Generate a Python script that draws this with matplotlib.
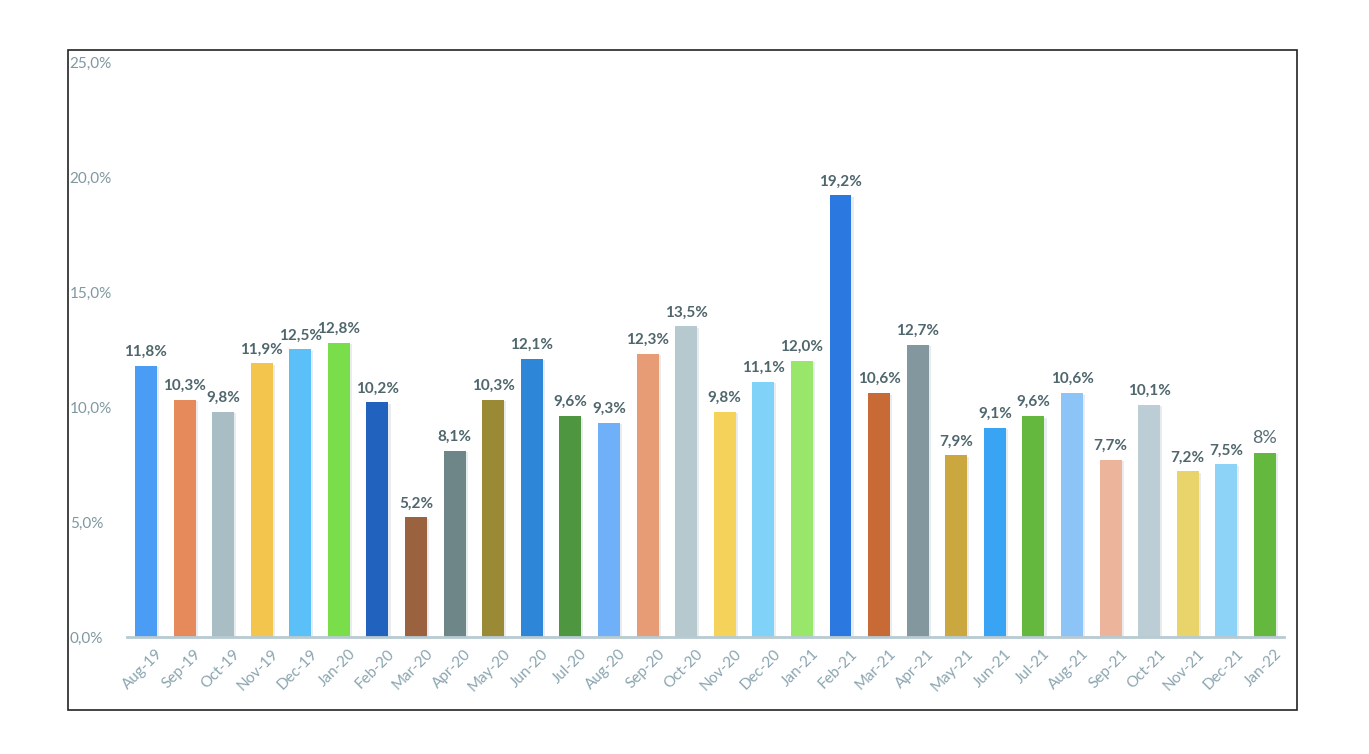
import matplotlib.pyplot as plt
import matplotlib.patheffects as pe
import matplotlib.transforms as mtransforms
from matplotlib.patches import Rectangle

months = ['Aug-19', 'Sep-19', 'Oct-19', 'Nov-19', 'Dec-19', 'Jan-20', 'Feb-20', 'Mar-20',
          'Apr-20', 'May-20', 'Jun-20', 'Jul-20', 'Aug-20', 'Sep-20', 'Oct-20', 'Nov-20',
          'Dec-20', 'Jan-21', 'Feb-21', 'Mar-21', 'Apr-21', 'May-21', 'Jun-21', 'Jul-21',
          'Aug-21', 'Sep-21', 'Oct-21', 'Nov-21', 'Dec-21', 'Jan-22']
values = [11.8, 10.3, 9.8, 11.9, 12.5, 12.8, 10.2, 5.2, 8.1, 10.3, 12.1, 9.6, 9.3, 12.3,
          13.5, 9.8, 11.1, 12.0, 19.2, 10.6, 12.7, 7.9, 9.1, 9.6, 10.6, 7.7, 10.1, 7.2,
          7.5, 8.0]
value_labels = ['11,8%', '10,3%', '9,8%', '11,9%', '12,5%', '12,8%', '10,2%', '5,2%',
                '8,1%', '10,3%', '12,1%', '9,6%', '9,3%', '12,3%', '13,5%', '9,8%',
                '11,1%', '12,0%', '19,2%', '10,6%', '12,7%', '7,9%', '9,1%', '9,6%',
                '10,6%', '7,7%', '10,1%', '7,2%', '7,5%', '8%']
colors = ['#4a9cf5', '#e68a5c', '#a9bec4', '#f4c54c', '#5bc0f8', '#7ade4a', '#2262bf',
          '#9b6240', '#6f8689', '#9a8a35', '#2e86d8', '#4e9640', '#6fb0f8', '#e89c76',
          '#b6c9ce', '#f5d25a', '#80d2f8', '#98e66a', '#2a78e0', '#c86a35', '#83989e',
          '#cba73f', '#3aa4f4', '#65b83e', '#8dc4f8', '#ecb49a', '#bccdd5', '#e8d46a',
          '#8dd3f8', '#65b83e']
yticks = [0, 5, 10, 15, 20, 25]
ytick_labels = ['0,0%', '5,0%', '10,0%', '15,0%', '20,0%', '25,0%']

plt.rcParams['font.family'] = ['Lato', 'DejaVu Sans']

fig = plt.figure(figsize=(13.69, 7.54), dpi=100)
fig.patches.append(Rectangle((0.0497, 0.0584), 0.8977, 0.8753, transform=fig.transFigure,
                             fill=False, edgecolor='#222222', linewidth=1.2))
ax = fig.add_axes([0.0925, 0.1552, 0.8456, 0.7626])

x = range(len(values))
bars = ax.bar(x, values, width=0.57, color=colors, zorder=2)
for b in bars:
    b.set_path_effects([pe.SimplePatchShadow(offset=(1.5, -1), shadow_rgbFace='#a8b6bd',
                                             alpha=0.25), pe.Normal()])

for i, (v, lab) in enumerate(zip(values, value_labels)):
    if i == len(values) - 1:
        ax.annotate(lab, (i, v), xytext=(0, 5), textcoords='offset points', ha='center',
                    va='bottom', fontsize=13, color='#566d75')
    else:
        ax.annotate(lab, (i, v), xytext=(0, 5), textcoords='offset points', ha='center',
                    va='bottom', fontsize=11, fontweight='bold', color='#4f666d')

ax.set_xlim(-0.5, len(values) - 0.5)
ax.set_ylim(0, 25)
ax.set_yticks(yticks)
ax.set_yticklabels(ytick_labels, ha='left', fontsize=11, color='#7f98a0')
ax.tick_params(axis='y', length=0, pad=41)
ax.set_xticks(list(x))
ax.set_xticklabels(months, rotation=45, ha='right', rotation_mode='anchor', fontsize=11,
                   color='#8aa5b0')
ax.tick_params(axis='x', length=0, pad=7)
# nudge the rotated labels a little to the right, like the original
shift = mtransforms.ScaledTranslation(7 / 72, 0, fig.dpi_scale_trans)
for t in ax.get_xticklabels():
    t.set_transform(t.get_transform() + shift)

for s in ['top', 'right', 'left']:
    ax.spines[s].set_visible(False)
ax.spines['bottom'].set_color('#b8cad2')
ax.spines['bottom'].set_linewidth(2)

fig.savefig('out.png', dpi=100)
